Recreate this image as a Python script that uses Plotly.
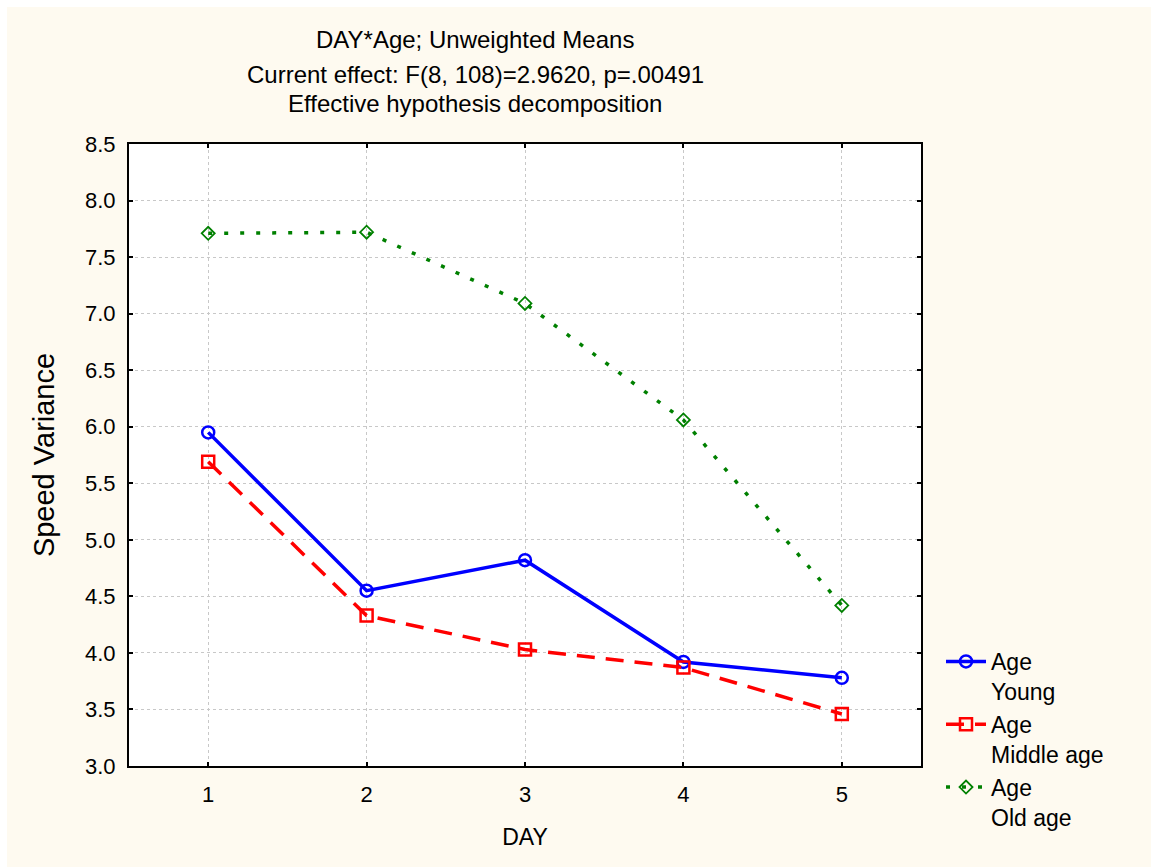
import plotly.graph_objects as go

days = [1, 2, 3, 4, 5]
young = [5.95, 4.55, 4.82, 3.92, 3.78]
middle = [5.69, 4.33, 4.03, 3.87, 3.46]
old = [7.71, 7.72, 7.09, 6.06, 4.42]

y_ticks = [3.0, 3.5, 4.0, 4.5, 5.0, 5.5, 6.0, 6.5, 7.0, 7.5, 8.0, 8.5]
title_lines = ["DAY*Age; Unweighted Means",
               "Current effect: F(8, 108)=2.9620, p=.00491",
               "Effective hypothesis decomposition"]
names = ["Age<br>Young", "Age<br>Middle age", "Age<br>Old age"]

FONT = "Liberation Sans, Arial, sans-serif"
W, H = 1151, 867
L, R, T, B = 129, 230, 144, 101
pw, ph = W - L - R, H - T - B

fig = go.Figure()
fig.add_trace(go.Scatter(x=days, y=young, name=names[0], mode="lines+markers",
                         line=dict(color="#0000FF", width=3.5),
                         marker=dict(symbol="circle-open", size=12, color="#0000FF",
                                     line=dict(width=2.5, color="#0000FF"))))
fig.add_trace(go.Scatter(x=days, y=middle, name=names[1], mode="lines+markers",
                         line=dict(color="#FF0000", width=3.5, dash="18px,11px"),
                         marker=dict(symbol="square-open", size=12, color="#FF0000",
                                     line=dict(width=2.5, color="#FF0000"))))
fig.add_trace(go.Scatter(x=days, y=old, name=names[2], mode="lines+markers",
                         line=dict(color="#008000", width=3.5, dash="4px,12px"),
                         marker=dict(symbol="diamond-open", size=10, color="#008000",
                                     line=dict(width=1.8, color="#008000"))))

shapes = [
    dict(type="rect", xref="paper", yref="paper", layer="below",
         x0=-0.3, x1=1.5, y0=(ph + T - 7) / ph, y1=1.5,
         fillcolor="white", line=dict(width=0)),
    dict(type="rect", xref="paper", yref="paper", layer="below",
         x0=-0.3, x1=(7 - L) / pw, y0=-0.3, y1=1.5,
         fillcolor="white", line=dict(width=0)),
]

annotations = []
for txt, py in zip(title_lines, [39, 74, 104]):
    annotations.append(dict(text=txt, xref="paper", yref="paper",
                            x=(475 - L) / pw, y=(ph + T - py) / ph,
                            xanchor="center", yanchor="middle", showarrow=False,
                            font=dict(family=FONT, size=24, color="black")))

fig.update_layout(
    width=W, height=H,
    margin=dict(l=L, r=R, t=T, b=B),
    paper_bgcolor="#FEFAF0",
    plot_bgcolor="white",
    font=dict(family=FONT, size=22, color="black"),
    shapes=shapes,
    annotations=annotations,
    showlegend=True,
    legend=dict(x=(941 - L) / pw, y=(H - B - 640) / ph, xanchor="left", yanchor="top",
                bgcolor="rgba(0,0,0,0)", font=dict(family=FONT, size=23),
                valign="top", tracegroupgap=0, itemwidth=40),
    xaxis=dict(range=[0.5, 5.5], tickvals=days, ticktext=[str(d) for d in days],
               showline=True, linecolor="black", linewidth=2, mirror="ticks",
               ticks="inside", ticklen=4, tickcolor="black", tickwidth=1.5,
               showgrid=True, gridcolor="#C8C8C8", griddash="dot", gridwidth=1,
               zeroline=False, ticklabelstandoff=8,
               tickfont=dict(size=22),
               title=dict(text="DAY", standoff=22, font=dict(size=23))),
    yaxis=dict(range=[3.0, 8.5], tickvals=y_ticks, ticktext=[f"{v:.1f}" for v in y_ticks],
               showline=True, linecolor="black", linewidth=2, mirror="ticks",
               ticks="inside", ticklen=4, tickcolor="black", tickwidth=1.5,
               showgrid=True, gridcolor="#C8C8C8", griddash="dot", gridwidth=1,
               zeroline=False, ticklabelstandoff=7,
               tickfont=dict(size=22),
               title=dict(text="Speed Variance", standoff=22, font=dict(size=29))),
)

fig.write_html("out.html")
